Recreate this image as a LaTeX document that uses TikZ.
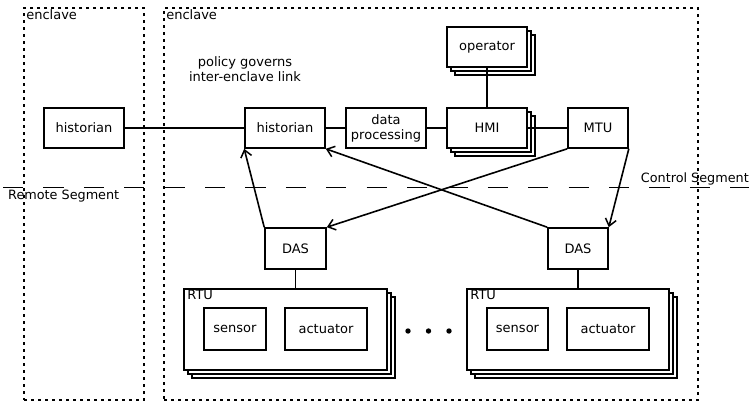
\documentclass[tikz,border=0pt]{standalone}
\usepackage{fontspec}
\setmainfont{DejaVu Sans}
\usetikzlibrary{arrows.meta,shadows}
\tikzset{
  box/.style={draw, line width=1.6pt, fill=white, inner sep=0pt, minimum width=80pt, minimum height=40pt, align=center, font=\fontsize{13}{15}\selectfont},
  stack/.style={copy shadow={shadow xshift=8pt,shadow yshift=-8pt}, copy shadow={shadow xshift=4pt,shadow yshift=-4pt}},
  enclave/.style={draw, line width=1.8pt, dash pattern=on 3.4pt off 3.6pt, inner sep=0pt},
  lbl/.style={inner sep=0pt, font=\fontsize{13}{15}\selectfont},
  seg/.style={inner sep=0pt, font=\fontsize{12.8}{14.5}\selectfont},
  link/.style={line width=1.6pt},
  arr/.style={line width=1.6pt, -{Straight Barb[length=7pt,width=11pt,line width=1.5pt]}},
  segline/.style={line width=1.8pt, dash pattern=on 20.2pt off 20.2pt},
}
\begin{document}
\begin{tikzpicture}[x=1pt,y=-1pt]
\useasboundingbox (0,0) rectangle (749,402);
% enclaves
\node[enclave, minimum width=120pt, minimum height=392pt] (enclL) at (84,204) {};
\node[enclave, minimum width=534pt, minimum height=392pt] (enclR) at (431,204) {};
\node[lbl, anchor=north west] (enclLlbl) at ([xshift=3pt,yshift=-2pt]enclL.north west) {enclave};
\node[lbl, anchor=north west] (enclRlbl) at ([xshift=3pt,yshift=-2pt]enclR.north west) {enclave};
% segment line
\coordinate (segA) at (3,187.5);
\coordinate (segB) at (749,187.5);
\draw[segline] (segA) -- (segB);
\node[seg, anchor=north west] (remote) at (8,190) {Remote Segment};
\node[seg, anchor=south east] (control) at (749,185.5) {Control Segment};
% policy text
\node[lbl, align=center] (policy) at (245,69) {policy governs\\inter-enclave link};
% top row
\node[box] (histL) at (84,128) {historian};
\node[box] (histR) at (285,128) {historian};
\node[box] (dp) at (386,128) {data\\processing};
\node[box, stack] (hmi) at (487,128) {HMI};
\node[box, stack] (op) at (487,47) {operator};
\node[box, minimum width=60pt] (mtu) at (598,128) {MTU};
% DAS
\node[box, minimum width=61pt, minimum height=41pt] (dasL) at (295.5,248.5) {DAS};
\node[box, minimum width=60pt, minimum height=41pt] (dasR) at (578,248.5) {DAS};
% RTUs
\node[box, stack, minimum width=203pt, minimum height=81pt] (rtuL) at (285.5,329.5) {};
\node[lbl, anchor=north west] (rtuLlbl) at ([xshift=4pt,yshift=-2pt]rtuL.north west) {RTU};
\node[box, minimum width=62pt, minimum height=42pt] (senL) at (235,329) {sensor};
\node[box, minimum width=82pt, minimum height=42pt] (actL) at (326,329) {actuator};
\node[box, stack, minimum width=202pt, minimum height=81pt] (rtuR) at (568,329.5) {};
\node[lbl, anchor=north west] (rtuRlbl) at ([xshift=4pt,yshift=-2pt]rtuR.north west) {RTU};
\node[box, minimum width=61pt, minimum height=42pt] (senR) at (517.5,329) {sensor};
\node[box, minimum width=82pt, minimum height=42pt] (actR) at (608,329) {actuator};
% dots
\fill (408,331) circle (2.7pt);
\fill (428.5,331) circle (2.7pt);
\fill (449,331) circle (2.7pt);
% connectors
\draw[link] (histL) -- (histR);
\draw[link] (histR) -- (dp);
\draw[link] (dp) -- (hmi);
\draw[link] (hmi) -- (mtu);
\draw[link] (op) -- (hmi);
\draw[link] (dasL.south) -- (dasL.south |- rtuL.north);
\draw[link] (dasR.south) -- (dasR.south |- rtuR.north);
\draw[arr] (dasL.north west) -- (histR.south west);
\draw[arr] (dasR.north west) -- (histR.south east);
\draw[arr] (mtu.south west) -- (dasL.north east);
\draw[arr] (mtu.south east) -- (dasR.north east);
\end{tikzpicture}
\end{document}
